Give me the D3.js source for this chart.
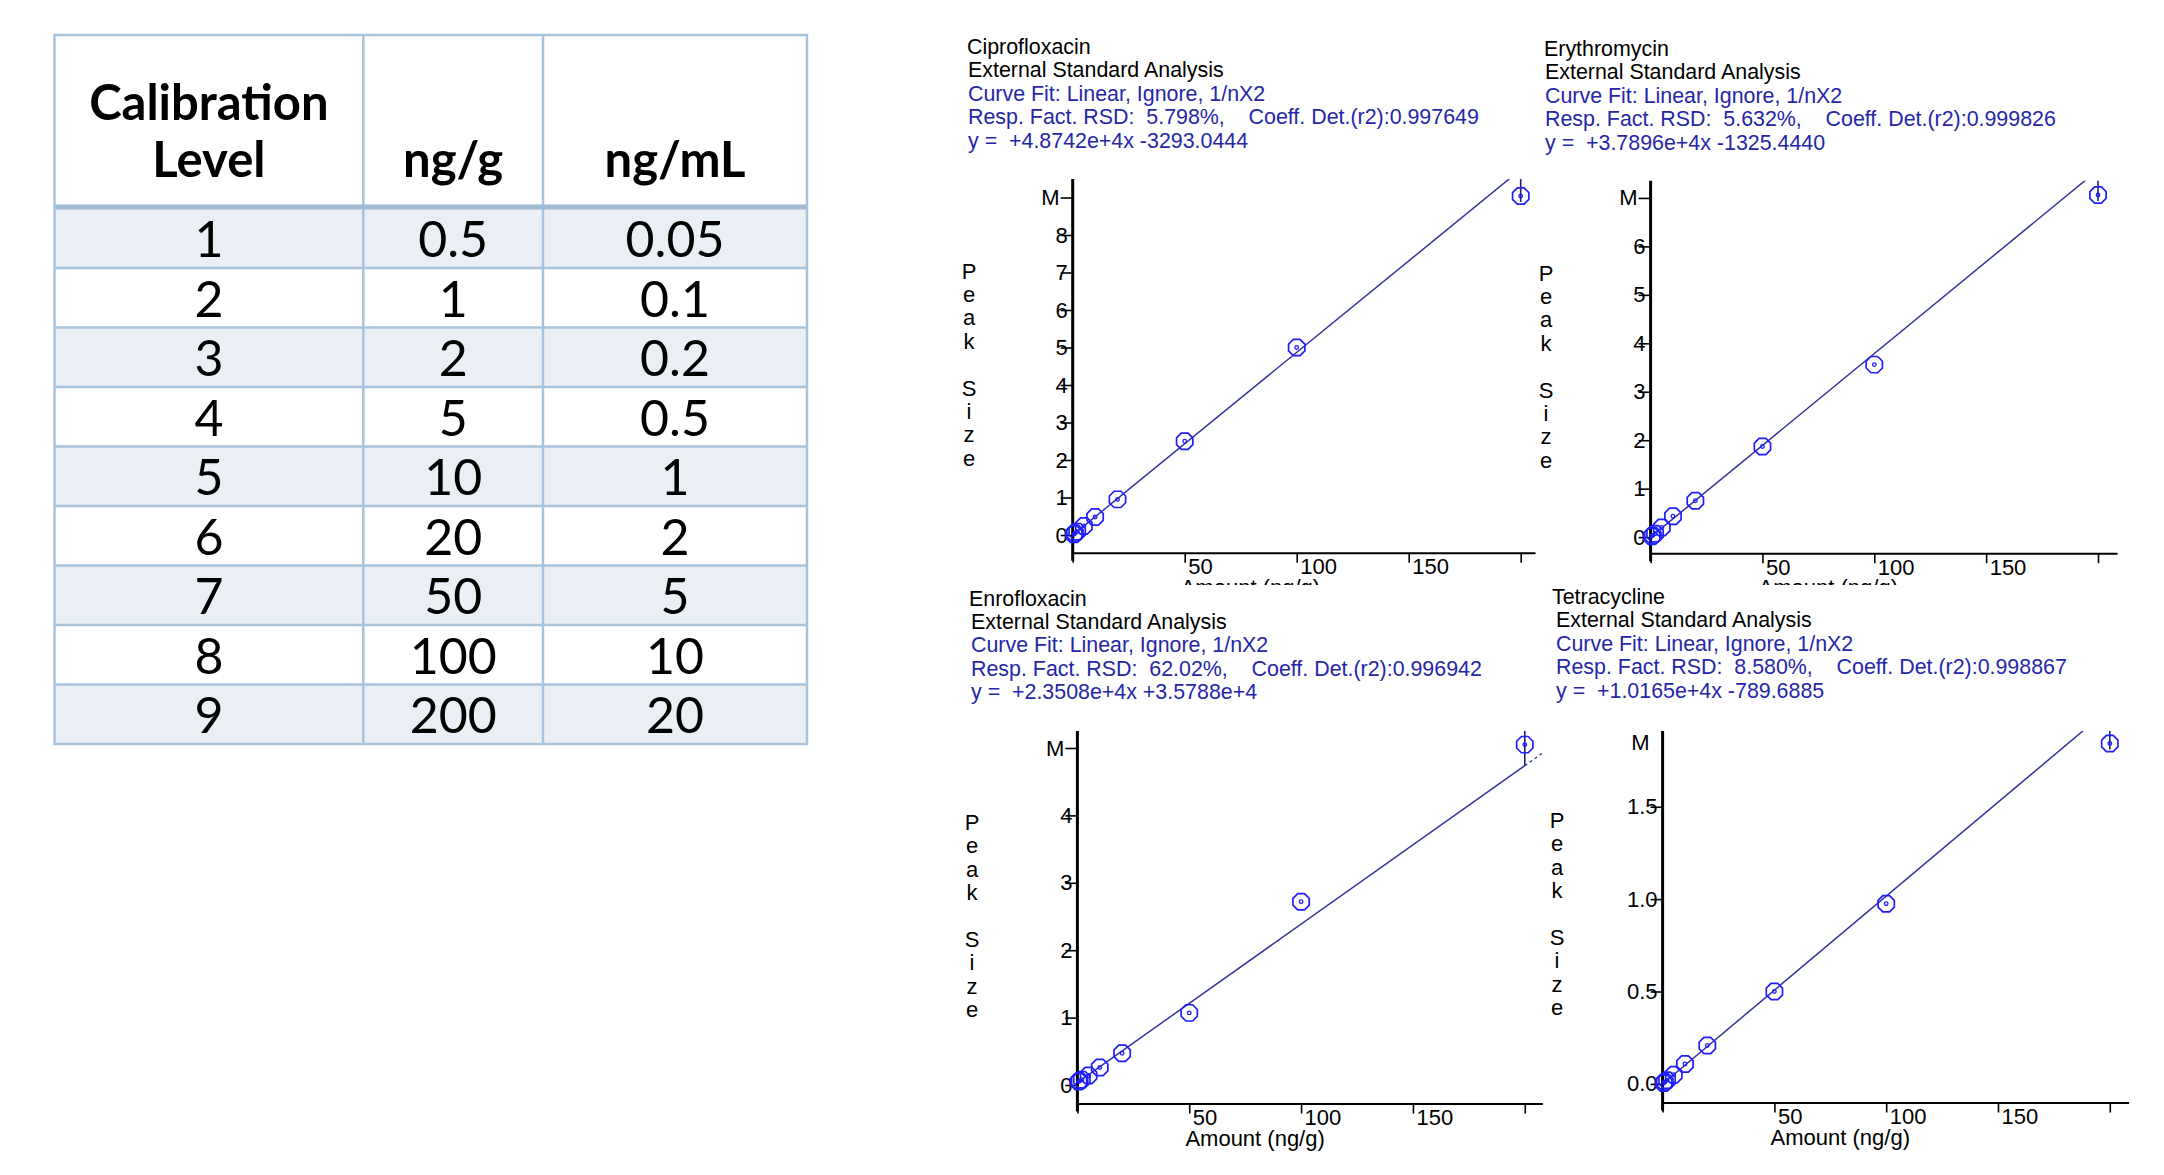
<!DOCTYPE html>
<html><head><meta charset="utf-8">
<script src="https://cdn.jsdelivr.net/npm/d3@7"></script>
<style>html,body{margin:0;padding:0;background:#fff;} svg{display:block;}</style>
</head><body><svg id="c" width="2164" height="1175"></svg>
<script>
// ---------------- data ----------------
const levels = ["1","2","3","4","5","6","7","8","9"];
const ngPerG = ["0.5","1","2","5","10","20","50","100","200"];
const ngPerML = ["0.05","0.1","0.2","0.5","1","2","5","10","20"];
const tableHeaders = [["Calibration","Level"],["ng/g"],["ng/mL"]];

const amounts = [0.5,1,2,5,10,20,50,100,200];
const compounds = ["Ciprofloxacin","Erythromycin","Enrofloxacin","Tetracycline"];
const analysisType = "External Standard Analysis";
const curveFit = "Curve Fit: Linear, Ignore, 1/nX2";
const rsd = ["5.798%","5.632%","62.02%","8.580%"];
const r2 = ["0.997649","0.999826","0.996942","0.998867"];
const eqText = ["+4.8742e+4x -3293.0444","+3.7896e+4x -1325.4440","+2.3508e+4x +3.5788e+4","+1.0165e+4x -789.6885"];
const slopes = [4.8742e4, 3.7896e4, 2.3508e4, 1.0165e4];
const intercepts = [-3293.0444, -1325.4440, 3.5788e4, -789.6885];
// peak size, in millions (M)
const peakCipro = [0.02,0.045,0.09,0.24,0.48,0.95,2.50,5.00,9.04];
const peakErythro = [0.015,0.035,0.07,0.2,0.43,0.75,1.87,3.56,7.06];
const peakEnro = [0.05,0.06,0.08,0.14,0.26,0.47,1.07,2.72,5.05];
const peakTetra = [0.005,0.01,0.02,0.05,0.108,0.208,0.50,0.975,1.842];
const peaks = [peakCipro, peakErythro, peakEnro, peakTetra];
const yTicks = [[0,1,2,3,4,5,6,7,8],[0,1,2,3,4,5,6],[0,1,2,3,4],[0,0.5,1,1.5]];
const yTickDecimals = [0,0,0,1];
const mLevel = [9,7,5,1.846];
const xTicks = [0,50,100,150,200];
const xTickLabels = ["","50","100","150",""];
const yTitle = "Peak Size";
const xTitle = "Amount (ng/g)";

// ---------------- layout ----------------
const svg = d3.select("#c");
const FONT = "'Liberation Sans', Arial, sans-serif";
const FS = 21.4;
const BLUE_TXT = "#2626a8", LINE_C = "#34349a", MARK_C = "#1f1fff";

// table
const T = {left:54.5, right:807, top:35, headBottom:208.5, rowH:59.5, cols:[54.5,363.3,543,807]};
const tg = svg.append("g");
const colCenters = [0,1,2].map(i => (T.cols[i]+T.cols[i+1])/2);
levels.forEach((lv,i) => {
  const y0 = T.headBottom + i*T.rowH;
  tg.append("rect").attr("x",T.left).attr("y",y0).attr("width",T.right-T.left).attr("height",T.rowH)
    .attr("fill", i%2===0 ? "#e9eff5" : "#ffffff");
  [lv, ngPerG[i], ngPerML[i]].forEach((v,j) => {
    tg.append("text").attr("x",colCenters[j]).attr("y",y0+48.8).attr("text-anchor","middle")
      .attr("font-family","Lato, 'Noto Sans', sans-serif").attr("font-size",50).attr("fill","#000").text(v);
  });
});
tableHeaders.forEach((lines,j) => {
  lines.forEach((t,k) => {
    const base = lines.length===2 ? (k===0?120:177) : 177;
    tg.append("text").attr("x",colCenters[j]).attr("y",base).attr("text-anchor","middle")
      .attr("font-family","Lato, 'Noto Sans', sans-serif").attr("font-weight","bold").attr("font-size",49).attr("fill","#000").text(t);
  });
});
const BC = "#a8c3dc";
for (let i=1;i<levels.length;i++){
  const y = T.headBottom + i*T.rowH;
  tg.append("line").attr("x1",T.left).attr("x2",T.right).attr("y1",y).attr("y2",y).attr("stroke",BC).attr("stroke-width",2.5);
}
T.cols.slice(1,3).forEach(x => tg.append("line").attr("x1",x).attr("x2",x).attr("y1",T.top).attr("y2",T.headBottom+9*T.rowH).attr("stroke",BC).attr("stroke-width",2.5));
tg.append("line").attr("x1",T.left).attr("x2",T.right).attr("y1",T.headBottom-1.5).attr("y2",T.headBottom-1.5).attr("stroke","#9fbad5").attr("stroke-width",5);
tg.append("rect").attr("x",T.left).attr("y",T.top).attr("width",T.right-T.left).attr("height",T.headBottom+9*T.rowH-T.top)
  .attr("fill","none").attr("stroke",BC).attr("stroke-width",2.5);

// panels
const panels = [
 {ax:1072.7, top:179, bottom:552.7, right:1535, y0:535, yu:37.5, xu:2.24, tx:967, tx2:968, ty:54, lx:969, ly:278.5, clipY:585, mTick:true},
 {ax:1650.6, top:180.7, bottom:553.2, right:2117, y0:537.1, yu:48.45, xu:2.237, tx:1544, tx2:1545, ty:56, lx:1546, ly:280.5, clipY:585, mTick:true},
 {ax:1077.4, top:731, bottom:1103.5, right:1542.4, y0:1085, yu:67.4, xu:2.237, tx:969, tx2:971, ty:605.5, lx:972, ly:830, clipY:1175, mTick:true},
 {ax:1662.6, top:731, bottom:1102.5, right:2128.6, y0:1083.9, yu:184.8, xu:2.236, tx:1552, tx2:1556, ty:604, lx:1557, ly:828, clipY:1175, mTick:false}
];

const defs = svg.append("defs");
panels.forEach((p,i) => {
  defs.append("clipPath").attr("id","pc"+i).append("rect").attr("x",0).attr("y",0).attr("width",2164).attr("height",p.clipY);
  defs.append("clipPath").attr("id","fc"+i).append("rect").attr("x",p.ax).attr("y",p.top).attr("width",p.right-p.ax+20).attr("height",p.bottom-p.top);

  const g = svg.append("g").attr("clip-path",`url(#pc${i})`);
  const x = d3.scaleLinear().domain([0,(p.right-p.ax)/p.xu]).range([p.ax,p.right]);
  const y = d3.scaleLinear().domain([(p.y0-p.bottom)/p.yu,(p.y0-p.top)/p.yu]).range([p.bottom,p.top]);

  const lines = [
    {t:compounds[i], c:"#000", x:p.tx},
    {t:analysisType, c:"#000", x:p.tx2},
    {t:curveFit, c:BLUE_TXT, x:p.tx2},
    {t:`Resp. Fact. RSD:  ${rsd[i]},    Coeff. Det.(r2):${r2[i]}`, c:BLUE_TXT, x:p.tx2},
    {t:`y =  ${eqText[i]}`, c:BLUE_TXT, x:p.tx2}
  ];
  lines.forEach((l,k) => g.append("text").attr("x",l.x).attr("y",p.ty+k*23.4)
    .attr("font-family",FONT).attr("font-size",FS).attr("fill",l.c).style("white-space","pre").text(l.t));

  const yt = g.append("text").attr("font-family",FONT).attr("font-size",FS+0.6).attr("fill","#000").attr("text-anchor","middle");
  yTitle.split("").forEach((ch,k) => yt.append("tspan").attr("x",p.lx).attr("y",p.ly+k*23.4).text(ch===" "?"\u00a0":ch));

  const xa = d3.axisBottom(x).tickValues(xTicks).tickSize(10).tickSizeOuter(0)
    .tickFormat((d,k) => xTickLabels[k]);
  const xg = g.append("g").attr("transform",`translate(0,${p.bottom})`).call(xa);
  xg.select(".domain").attr("stroke","#000").attr("stroke-width",2);
  xg.selectAll(".tick line").attr("stroke","#000").attr("stroke-width",1.6);
  xg.selectAll(".tick text").attr("text-anchor","start").attr("x",3).attr("y",6)
    .attr("font-family",FONT).attr("font-size",FS+0.6).attr("fill","#000");

  const tv = yTicks[i].concat([mLevel[i]]);
  const ya = d3.axisLeft(y).tickValues(tv).tickSize(12).tickPadding(-7)
    .tickFormat(d => d===mLevel[i] ? "M" : d3.format(`.${yTickDecimals[i]}f`)(d));
  const yg = g.append("g").attr("transform",`translate(${p.ax},0)`).call(ya);
  yg.select(".domain").remove();
  yg.selectAll(".tick line").attr("stroke","#000").attr("stroke-width",1.6)
    .attr("display", d => (d===mLevel[i] && !p.mTick) ? "none" : null);
  yg.selectAll(".tick text").attr("font-family",FONT).attr("font-size",FS+0.6).attr("fill","#000")
    .attr("x", d => d===mLevel[i] ? -13 : -5);
  g.append("line").attr("x1",p.ax).attr("x2",p.ax).attr("y1",p.top).attr("y2",p.bottom+8)
    .attr("stroke","#000").attr("stroke-width",3);

  g.append("text").attr("x",p.ax+108).attr("y",p.bottom+42).attr("font-family",FONT).attr("font-size",FS+0.6)
    .attr("fill","#000").text(xTitle);

  const fit = v => (slopes[i]*v + intercepts[i])/1e6;
  const fg = g.append("g").attr("clip-path",`url(#fc${i})`);
  const ln = d3.line().x(d=>x(d)).y(d=>y(fit(d)));
  fg.append("path").attr("d",ln([0,200])).attr("fill","none").attr("stroke",LINE_C).attr("stroke-width",1.5);
  fg.append("path").attr("d",ln([200,x.domain()[1]])).attr("fill","none").attr("stroke",LINE_C)
    .attr("stroke-width",1.3).attr("stroke-dasharray","3,3");

  const last = amounts.length-1;
  const stemLow = Math.min(peaks[i][last], fit(amounts[last]));
  g.append("line").attr("x1",x(amounts[last])).attr("x2",x(amounts[last]))
    .attr("y1",p.top).attr("y2",Math.min(p.bottom,y(stemLow)+ (stemLow===peaks[i][last]?6:0)))
    .attr("stroke","#20207a").attr("stroke-width",1.6);

  const R = 8.8;
  const oct = d3.range(8).map(k => [R*Math.cos((k+0.5)*Math.PI/4), R*Math.sin((k+0.5)*Math.PI/4)]);
  const octPath = d3.line().curve(d3.curveLinearClosed)(oct);
  const mg = g.append("g");
  amounts.forEach((a,k) => {
    const cx = x(a), cy = y(peaks[i][k]);
    mg.append("path").attr("d",octPath).attr("transform",`translate(${cx},${cy})`)
      .attr("fill","none").attr("stroke",MARK_C).attr("stroke-width",1.7);
    mg.append("circle").attr("cx",cx).attr("cy",cy).attr("r",1.8).attr("fill","none").attr("stroke",MARK_C).attr("stroke-width",1.3);
  });
});
</script></body></html>
